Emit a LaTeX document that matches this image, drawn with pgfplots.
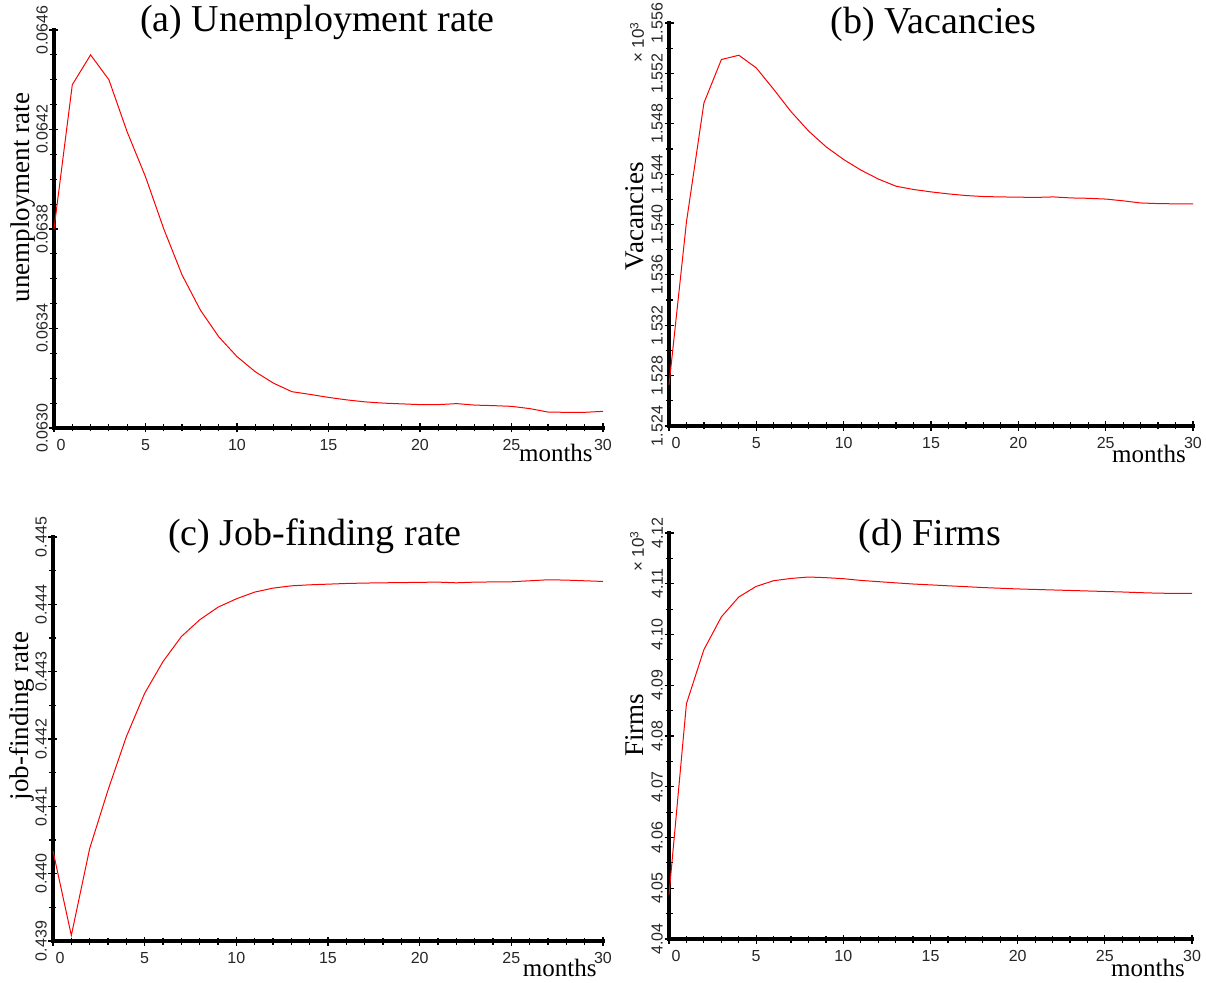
\documentclass[border=0pt]{standalone}
\usepackage{fontspec}
\setmainfont{Liberation Serif}
\setsansfont{Liberation Sans}
\usepackage{pgfplots}
\pgfplotsset{compat=1.18}

\pgfplotsset{
  panel/.style={
    scale only axis,
    clip=false,
    axis x line=bottom, axis y line=left,
    axis line style={-, line width=2pt, black},
    xmin=0, xmax=30,
    xtick={0,5,10,15,20,25,30},
    xticklabels={\hspace*{7pt}0,5,10,15,20,25,30},
    minor x tick num=4,
    tick align=center,
    major tick length=4.5pt, minor tick length=3.5pt,
    every tick/.style={black, line width=0.6pt},
    tick label style={font=\sffamily\fontsize{8}{9}\selectfont, text=black!85},
    yticklabel style={rotate=90, anchor=south, inner sep=0.6pt},
    scaled y ticks=false,
    /pgf/number format/assume math mode=true,
    xlabel={months},
    xlabel style={font=\fontsize{12.5}{14}\selectfont, anchor=base east, inner sep=0pt},
    ylabel style={font=\fontsize{13.5}{15}\selectfont, anchor=base, inner sep=0pt},
    title style={font=\fontsize{19}{21}\selectfont, anchor=base},
  },
  resp/.style={color=red, line width=0.5pt},
}
\newcommand{\axlines}{\draw[line width=2pt, black, line cap=rect]
  (rel axis cs:0,1) -- (rel axis cs:0,0) -- (rel axis cs:1,0);}

\pgfplotstableread{
m u
0 0.0638
1 0.06438
2 0.0645
3 0.0644
4 0.06419
5 0.06401
6 0.06380
7 0.063615
8 0.063474
9 0.063367
10 0.063287
11 0.063226
12 0.06318
13 0.063146
14 0.063135
15 0.063123
16 0.063113
17 0.063105
18 0.0631
19 0.063097
20 0.063094
21 0.063094
22 0.063098
23 0.063092
24 0.06309
25 0.063087
26 0.063078
27 0.063064
28 0.063063
29 0.063063
30 0.063067
}\unemp

\pgfplotstableread{
m v
0 1.52725
1 1.54021
2 1.54965
3 1.5531
4 1.55344
5 1.55243
6 1.55072
7 1.54894
8 1.54741
9 1.54616
10 1.54516
11 1.54431
12 1.5436
13 1.54304
14 1.54278
15 1.54259
16 1.54243
17 1.5423
18 1.54222
19 1.54219
20 1.54217
21 1.54215
22 1.54219
23 1.54211
24 1.54208
25 1.54202
26 1.54188
27 1.54171
28 1.54166
29 1.54164
30 1.54164
}\vac

\pgfplotstableread{
m f
0 0.440338
1 0.439083
2 0.440373
3 0.441241
4 0.442034
5 0.442679
6 0.44315
7 0.443521
8 0.44377
9 0.443958
10 0.444082
11 0.444182
12 0.444241
13 0.444275
14 0.44429
15 0.4443
16 0.44431
17 0.444316
18 0.44432
19 0.444323
20 0.444327
21 0.44433
22 0.44432
23 0.44433
24 0.444333
25 0.444335
26 0.44435
27 0.444365
28 0.44436
29 0.44435
30 0.44434
}\jobf

\pgfplotstableread{
m n
0 4.04873
1 4.08636
2 4.097
3 4.10345
4 4.10739
5 4.10948
6 4.1106
7 4.11105
8 4.11133
9 4.1112
10 4.111
11 4.11066
12 4.11042
13 4.11018
14 4.10995
15 4.10978
16 4.1096
17 4.10944
18 4.10925
19 4.10912
20 4.10898
21 4.10888
22 4.10878
23 4.10868
24 4.10858
25 4.10848
26 4.10838
27 4.10825
28 4.10815
29 4.1081
30 4.1081
}\firms

\begin{document}
\begin{tikzpicture}
\path[use as bounding box] (0,0) rectangle (603pt,491pt);

% (a) unemployment
\begin{axis}[panel, at={(27pt,277pt)}, anchor=south west,
  width=274.5pt, height=199pt,
  ymin=0.0630, ymax=0.0646,
  ytick={0.0630,0.0634,0.0638,0.0642,0.0646}, minor y tick num=3,
  yticklabel style={/pgf/number format/.cd, fixed, fixed zerofill, precision=4},
  title={(a) Unemployment rate},
  title style={at={(axis description cs:0.48,1)}, yshift=-7pt},
  ylabel={unemployment rate},
  ylabel style={at={(axis description cs:-0.045,0.579)}},
  xlabel style={at={(axis description cs:0.982,-0.083)}},
]
\axlines
\addplot[resp] table[x=m, y=u] {\unemp};
\end{axis}

% (b) vacancies
\begin{axis}[panel, at={(334.5pt,278pt)}, anchor=south west,
  width=262pt, height=201.5pt,
  ymin=1.524, ymax=1.556,
  ytick={1.524,1.528,1.532,1.536,1.540,1.544,1.548,1.552,1.556}, minor y tick num=1,
  yticklabel style={/pgf/number format/.cd, fixed, fixed zerofill, precision=3},
  title={(b) Vacancies},
  title style={at={(axis description cs:0.505,1)}, yshift=-11pt},
  ylabel={Vacancies},
  ylabel style={at={(axis description cs:-0.048,0.52)}},
  xlabel style={at={(axis description cs:0.987,-0.091)}},
]
\axlines
\addplot[resp] table[x=m, y=v] {\vac};
\node[rotate=90, font=\sffamily\fontsize{8.5}{9}\selectfont, text=black!85]
  at (axis description cs:-0.061,0.952) {× 10\textsuperscript{3}};
\end{axis}

% (c) job-finding rate
\begin{axis}[panel, at={(26.5pt,20.5pt)}, anchor=south west,
  width=275pt, height=202pt,
  ymin=0.439, ymax=0.445,
  ytick={0.439,0.440,0.441,0.442,0.443,0.444,0.445}, minor y tick num=1,
  yticklabel style={/pgf/number format/.cd, fixed, fixed zerofill, precision=3},
  title={(c) Job-finding rate},
  title style={at={(axis description cs:0.476,1)}, yshift=-10pt},
  ylabel={job-finding rate},
  ylabel style={at={(axis description cs:-0.045,0.557)}},
  xlabel style={at={(axis description cs:0.989,-0.087)}},
]
\axlines
\addplot[resp] table[x=m, y=f] {\jobf};
\end{axis}

% (d) firms
\begin{axis}[panel, at={(334.5pt,21.5pt)}, anchor=south west,
  width=261.5pt, height=203pt,
  ymin=4.04, ymax=4.12,
  ytick={4.04,4.05,4.06,4.07,4.08,4.09,4.10,4.11,4.12}, minor y tick num=1,
  yticklabel style={/pgf/number format/.cd, fixed, fixed zerofill, precision=2},
  title={(d) Firms},
  title style={at={(axis description cs:0.499,1)}, yshift=-12pt},
  ylabel={Firms},
  ylabel style={at={(axis description cs:-0.048,0.527)}},
  xlabel style={at={(axis description cs:0.987,-0.093)}},
]
\axlines
\addplot[resp] table[x=m, y=n] {\firms};
\node[rotate=90, font=\sffamily\fontsize{8.5}{9}\selectfont, text=black!85]
  at (axis description cs:-0.061,0.955) {× 10\textsuperscript{3}};
\end{axis}
\end{tikzpicture}
\end{document}
